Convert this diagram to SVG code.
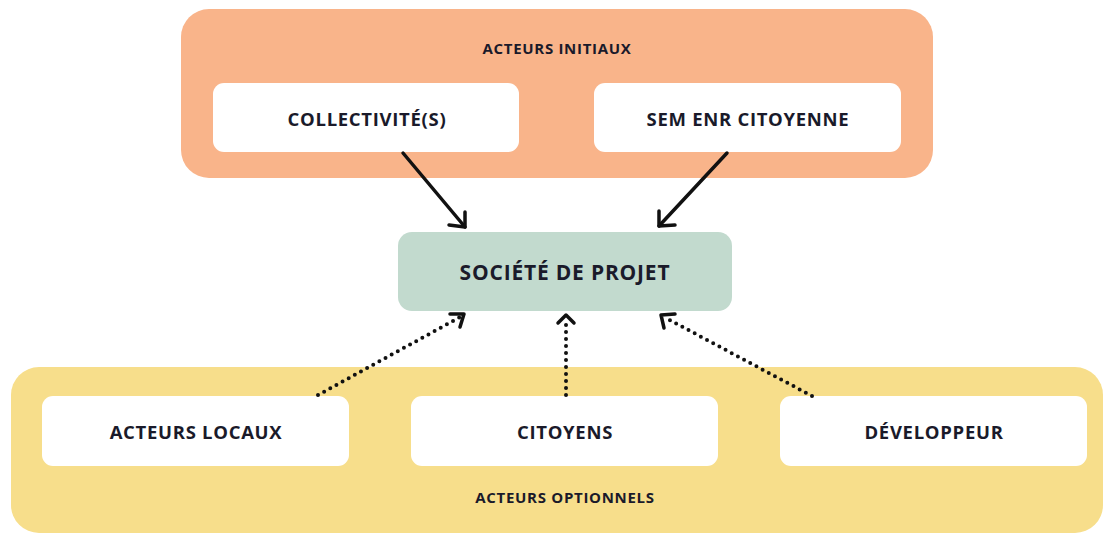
<svg xmlns="http://www.w3.org/2000/svg" width="1107" height="534" viewBox="0 0 1107 534">
<style>
.t{font-family:"Open Sans","Liberation Sans",sans-serif;font-weight:700;fill:#1a1a2a;text-anchor:middle;dominant-baseline:central}
.n{font-size:18.5px;letter-spacing:0.7px}
.g{font-size:15px;letter-spacing:0.7px}
.box{fill:#ffffff}
.solid{stroke:#111;stroke-width:3.5;fill:none;stroke-linecap:round}
.dot{stroke:#111;stroke-width:4;fill:none;stroke-linecap:round;stroke-dasharray:0 7}
.head{stroke:#111;stroke-width:3.5;fill:none;stroke-linecap:round;stroke-linejoin:round}
</style>
<rect width="1107" height="534" fill="#ffffff"/>
<g id="initiaux">
<rect x="181" y="9" width="752" height="169" rx="28" fill="#F9B48A"/>
<text class="t g" x="557" y="48">ACTEURS INITIAUX</text>
</g>
<g id="optionnels">
<rect x="11" y="367" width="1092" height="166" rx="28" fill="#F7DE8B"/>
<text class="t g" x="565" y="497">ACTEURS OPTIONNELS</text>
</g>
<g id="collectivites">
<rect class="box" x="213" y="83" width="306" height="69" rx="11"/>
<text class="t n" x="367" y="118">COLLECTIVITÉ(S)</text>
</g>
<g id="sem">
<rect class="box" x="594" y="83" width="307" height="69" rx="11"/>
<text class="t n" x="748" y="118">SEM ENR CITOYENNE</text>
</g>
<g id="societe">
<rect x="398" y="232" width="334" height="79" rx="14" fill="#C2DACE"/>
<text class="t" x="565" y="272" font-size="21" letter-spacing="0.8">SOCIÉTÉ DE PROJET</text>
</g>
<g id="locaux">
<rect class="box" x="42" y="396" width="307" height="70" rx="11"/>
<text class="t n" x="196" y="431">ACTEURS LOCAUX</text>
</g>
<g id="citoyens">
<rect class="box" x="411" y="396" width="307" height="70" rx="11"/>
<text class="t n" x="565" y="431">CITOYENS</text>
</g>
<g id="developpeur">
<rect class="box" x="780" y="396" width="307" height="70" rx="11"/>
<text class="t n" x="934" y="431">DÉVELOPPEUR</text>
</g>
<g id="connectors">
<line class="solid" x1="403" y1="153" x2="465" y2="227"/>
<polyline class="head" points="449,225 465,227 465,212"/>
<line class="solid" x1="727" y1="153" x2="659" y2="226"/>
<polyline class="head" points="659,211 659,226 675,225"/>
<line class="dot" x1="318" y1="395" x2="462" y2="316"/>
<polyline class="head" points="450,314 464,314 460,327"/>
<line class="dot" x1="566" y1="395" x2="566" y2="318"/>
<polyline class="head" points="558,323 566,315 574,323"/>
<line class="dot" x1="812" y1="396" x2="664" y2="317"/>
<polyline class="head" points="664,328 661,315 675,314"/>
</g>
</svg>
